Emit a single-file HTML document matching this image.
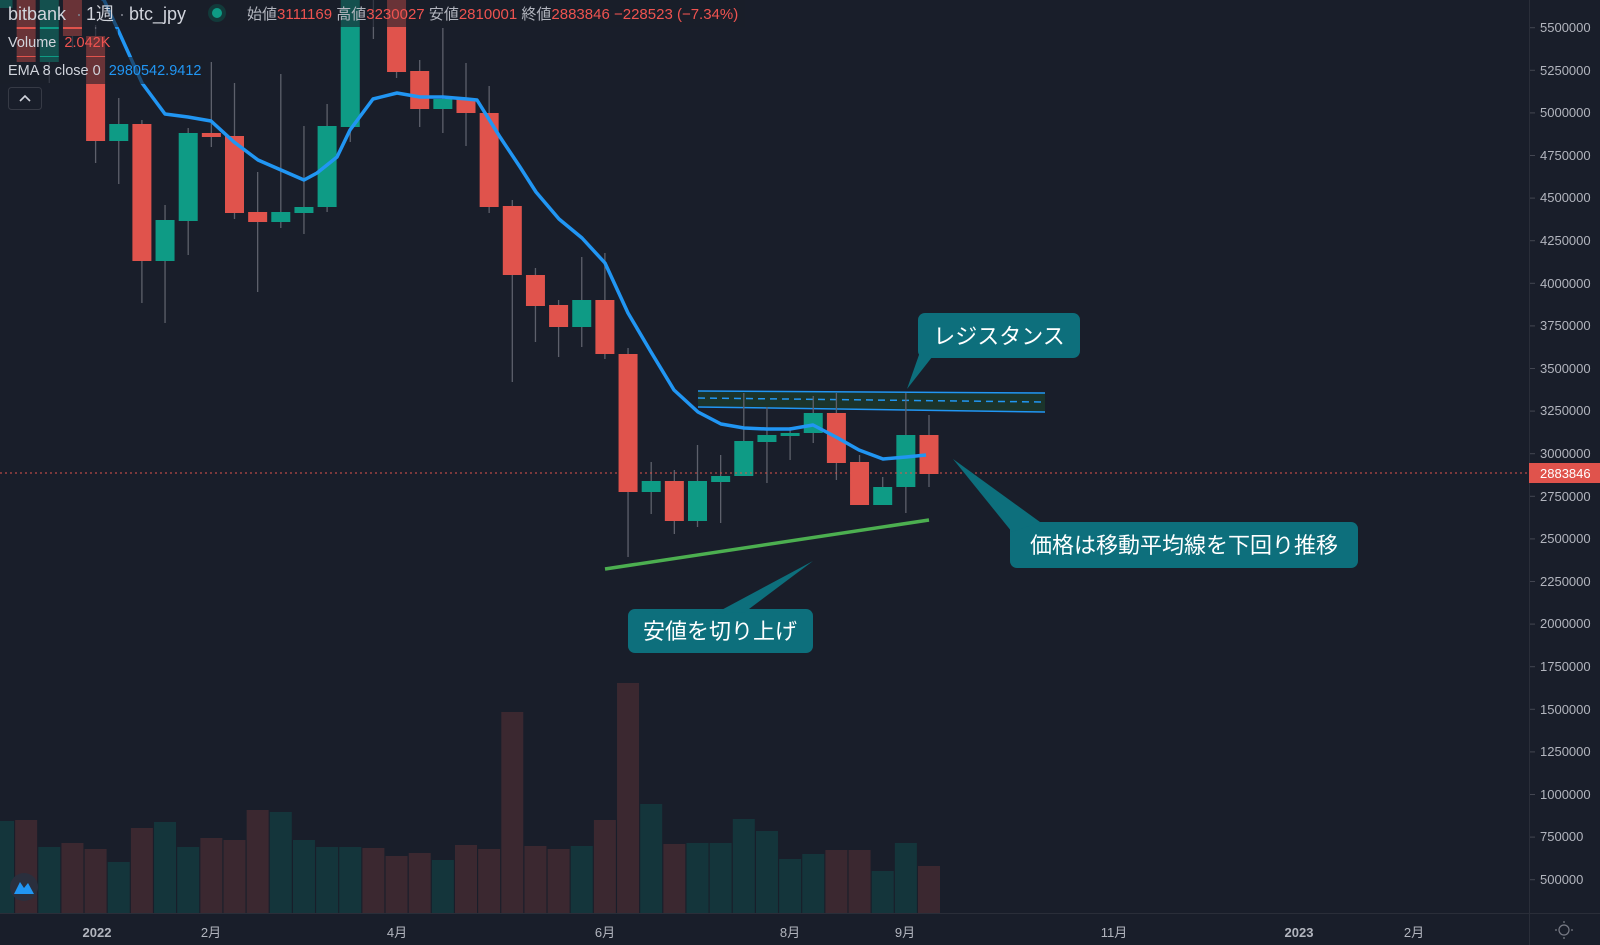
<!DOCTYPE html>
<html><head><meta charset="utf-8"><style>
html,body{margin:0;padding:0;background:#191e2a;width:1600px;height:945px;overflow:hidden}
svg{display:block}
text{font-family:"Liberation Sans","Noto Sans CJK JP",sans-serif}
</style></head><body>
<svg id="s" width="1600" height="945" viewBox="0 0 1600 945" xmlns="http://www.w3.org/2000/svg">
<rect width="1600" height="945" fill="#191e2a"/>
<g id="vol"></g>
<polygon points="698,391 1045,393 1045,412 698,407" fill="#1b3a2c" opacity="0.8"/>
<line x1="698" y1="391" x2="1045" y2="393" stroke="#2196f3" stroke-width="1.5"/>
<line x1="698" y1="407" x2="1045" y2="412" stroke="#2196f3" stroke-width="1.5"/>
<line x1="698" y1="398" x2="1045" y2="402" stroke="#2196f3" stroke-width="1.5" stroke-dasharray="7,5"/>
<g id="cd"></g>
<polyline fill="none" stroke="#2196f3" stroke-width="3.5" stroke-linejoin="round" points="72,-40 96,-5 104,0 119,32 142,83 165,114 188,117 211,121 234,142 258,160 281,170 304,180 317,173 337,157 350,130 373,99 397,93 420,97 443,97 467,99 477,100 500,137 520,167 536,192 559,219 582,238 605,263 628,313 651,352 674,390 698,412 721,424 744,428 767,429 790,429 813,425 836,437 859,450 883,459 906,457 926,455"/>
<line x1="605" y1="569" x2="929" y2="520" stroke="#4caf50" stroke-width="3.5"/>
<line x1="0" y1="473" x2="1529" y2="473" stroke="#e0534c" stroke-width="1" stroke-dasharray="2,3"/>
<rect x="0" y="0" width="745" height="27" fill="#191e2a" opacity="0.6"/>
<rect x="0" y="29" width="118" height="27" fill="#191e2a" opacity="0.6"/>
<rect x="0" y="57" width="205" height="27" fill="#191e2a" opacity="0.6"/>
<g fill="#0d6f7c">
<rect x="918" y="313" width="162" height="45" rx="7"/>
<polygon points="920,352 936,352 907,389"/>
<rect x="1010" y="522" width="348" height="46" rx="7"/>
<polygon points="953,459 1012,532 1040,522"/>
<rect x="628" y="609" width="185" height="44" rx="7"/>
<polygon points="714,614 745,612 813,561"/>
</g>
<g fill="#ffffff" font-size="22">
<text x="999" y="344" text-anchor="middle">レジスタンス</text>
<text x="1184" y="553" text-anchor="middle">価格は移動平均線を下回り推移</text>
<text x="720" y="639" text-anchor="middle">安値を切り上げ</text>
</g>
<text x="8" y="20" font-size="18" fill="#d1d4dc">bitbank</text>
<text x="76" y="20" font-size="18" fill="#787b86">·</text>
<text x="86" y="20" font-size="18" fill="#d1d4dc">1週</text>
<text x="119" y="20" font-size="18" fill="#787b86">·</text>
<text x="129" y="20" font-size="18" fill="#d1d4dc">btc_jpy</text>
<circle cx="217" cy="13" r="9" fill="#123a3a"/>
<circle cx="217" cy="13" r="5" fill="#0e9b85"/>
<text x="247" y="19" font-size="15" fill="#b2b5be">始値<tspan fill="#ef5350">3111169</tspan> 高値<tspan fill="#ef5350">3230027</tspan> 安値<tspan fill="#ef5350">2810001</tspan> 終値<tspan fill="#ef5350">2883846 −228523 (−7.34%)</tspan></text>
<text x="8" y="47" font-size="14.5" fill="#d1d4dc">Volume <tspan fill="#ef5350" dx="4">2.042K</tspan></text>
<text x="8" y="75" font-size="14.5" fill="#d1d4dc">EMA 8 close 0 <tspan fill="#2196f3" dx="4">2980542.9412</tspan></text>
<rect x="8.5" y="87.5" width="33" height="22" rx="3" fill="none" stroke="#363a45"/>
<polyline points="20,101 25,96 30,101" fill="none" stroke="#d1d4dc" stroke-width="1.6"/>
<circle cx="24" cy="887" r="14" fill="#2a2f3d"/>
<path d="M14,894 L20,882 L24,888 L28,883 L34,894 Z" fill="#2196f3"/>
<rect x="1529" y="0" width="71" height="945" fill="#191e2a"/>
<line x1="1529.5" y1="0" x2="1529.5" y2="945" stroke="#2a2e39"/>
<g font-size="13" fill="#b2b5be">
<text x="1540" y="32">5500000</text>
<text x="1540" y="75">5250000</text>
<text x="1540" y="117">5000000</text>
<text x="1540" y="160">4750000</text>
<text x="1540" y="202">4500000</text>
<text x="1540" y="245">4250000</text>
<text x="1540" y="288">4000000</text>
<text x="1540" y="330">3750000</text>
<text x="1540" y="373">3500000</text>
<text x="1540" y="415">3250000</text>
<text x="1540" y="458">3000000</text>
<text x="1540" y="501">2750000</text>
<text x="1540" y="543">2500000</text>
<text x="1540" y="586">2250000</text>
<text x="1540" y="628">2000000</text>
<text x="1540" y="671">1750000</text>
<text x="1540" y="714">1500000</text>
<text x="1540" y="756">1250000</text>
<text x="1540" y="799">1000000</text>
<text x="1540" y="841">750000</text>
<text x="1540" y="884">500000</text>
</g>
<g id="ticks" stroke="#434651"></g>
<rect x="1529" y="463" width="71" height="20" fill="#e0534c"/>
<text x="1540" y="478" font-size="13" fill="#ffffff">2883846</text>
<rect x="0" y="914" width="1529" height="31" fill="#191e2a"/>
<line x1="0" y1="913.5" x2="1600" y2="913.5" stroke="#2a2e39"/>
<g font-size="13" fill="#b2b5be" text-anchor="middle" font-weight="bold">
<text x="97" y="937">2022</text>
<text x="211" y="937" font-weight="normal">2月</text>
<text x="397" y="937" font-weight="normal">4月</text>
<text x="605" y="937" font-weight="normal">6月</text>
<text x="790" y="937" font-weight="normal">8月</text>
<text x="905" y="937" font-weight="normal">9月</text>
<text x="1114" y="937" font-weight="normal">11月</text>
<text x="1299" y="937">2023</text>
<text x="1414" y="937" font-weight="normal">2月</text>
</g>
<g stroke="#787b86" fill="none" stroke-width="1.2">
<circle cx="1564" cy="930" r="5"/>
<line x1="1564" y1="921" x2="1564" y2="923"/><line x1="1564" y1="937" x2="1564" y2="939"/>
<line x1="1555" y1="930" x2="1557" y2="930"/><line x1="1571" y1="930" x2="1573" y2="930"/>
</g>
</svg>
<script>
var NS="http://www.w3.org/2000/svg";
function el(p,t,a){var e=document.createElementNS(NS,t);for(var k in a)e.setAttribute(k,a[k]);p.appendChild(e);return e;}
var C=[[0,'g',-50,8,-50,8],[1,'r',-50,62,-50,62],[2,'g',-50,62,-50,83],[3,'r',-50,36,-50,48],[4,'r',36,141,25,163],[5,'g',124,141,98,184],[6,'r',124,261,120,303],[7,'g',220,261,205,323],[8,'g',133,221,128,255],[9,'r',133,137,62,147],[10,'r',136,213,83,219],[11,'r',212,222,172,292],[12,'g',212,222,74,228],[13,'g',207,213,126,234],[14,'g',126,207,104,212],[15,'g',-50,127,-50,142],[16,'r',-100,-20,-100,39],[17,'r',-50,72,-50,78],[18,'r',71,109,60,127],[19,'g',99,109,28,133],[20,'r',99,113,63,146],[21,'r',113,207,86,213],[22,'r',206,275,200,382],[23,'r',275,306,268,342],[24,'r',305,327,300,357],[25,'g',300,327,257,347],[26,'r',300,354,253,359],[27,'r',354,492,348,557],[28,'g',481,492,462,514],[29,'r',481,521,470,534],[30,'g',481,521,445,527],[31,'g',476,482,455,523],[32,'g',441,476,393,476],[33,'g',435,442,407,483],[34,'g',433,436,427,460],[35,'g',413,433,396,443],[36,'r',413,463,393,480],[37,'r',462,505,455,505],[38,'g',487,505,477,505],[39,'g',435,487,393,513],[40,'r',435,474,415,487]];
var V=[821,820,847,843,849,862,828,822,847,838,840,810,812,840,847,847,848,856,853,860,845,849,712,846,849,846,820,683,804,844,843,843,819,831,859,854,850,850,871,843,866];
var VC="grgrrgrggrrrggggrrrgrrrrrgrrgrggggggrrggr";
var cd=document.getElementById('cd'),vg=document.getElementById('vol');
for(var i=0;i<C.length;i++){var c=C[i],x=3+c[0]*23.15;
el(cd,'line',{x1:x,y1:c[4],x2:x,y2:c[5],stroke:'#5d606b','stroke-width':1.3});
el(cd,'rect',{x:x-9.5,y:c[2],width:19,height:Math.max(2,c[3]-c[2]),fill:c[1]=='r'?'#e0534c':'#0e9b85'});}
for(var i=0;i<V.length;i++){var x=3+i*23.15;
el(vg,'rect',{x:x-11,y:V[i],width:22,height:913-V[i],fill:VC[i]=='r'?'#3b2830':'#14353b'});}
var tk=document.getElementById('ticks');
for(var k=0;k<=20;k++){var y=27.7+k*42.6;el(tk,'line',{x1:1530,y1:y,x2:1535,y2:y});}
</script>
</body></html>
